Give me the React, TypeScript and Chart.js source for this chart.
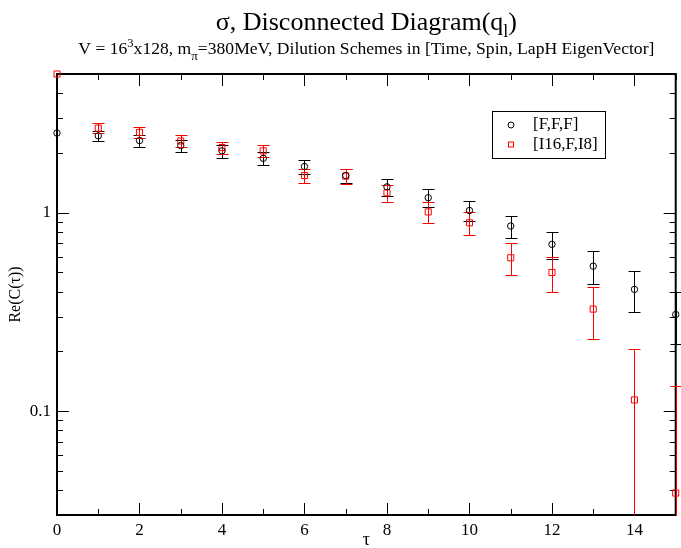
import React, { useEffect, useRef } from 'react';
import { Chart, registerables } from 'chart.js';

Chart.register(...registerables);

// ---- data ----
const tau = [0, 1, 2, 3, 4, 5, 6, 7, 8, 9, 10, 11, 12, 13, 14, 15];
const fffValues = [2.52, 2.44, 2.31, 2.18, 2.05, 1.88, 1.71, 1.54, 1.35, 1.19, 1.026, 0.857, 0.693, 0.538, 0.411, 0.307];
const fffErrors = [0, 0.15, 0.16, 0.155, 0.155, 0.145, 0.14, 0.13, 0.13, 0.12, 0.12, 0.11, 0.105, 0.1, 0.095, 0.09];
const i16Values = [5.0, 2.67, 2.54, 2.3, 2.13, 2.05, 1.54, 1.53, 1.26, 1.01, 0.89, 0.593, 0.5, 0.327, 0.114, 0.0387];
const i16Errors = [0, 0.16, 0.15, 0.15, 0.145, 0.145, 0.13, 0.13, 0.125, 0.12, 0.117, 0.11, 0.1, 0.097, 0.093, 0.095];

const seriesLabels = ['[F,F,F]', '[I16,F,I8]'];
const seriesColors = ['#000000', '#ff0000'];

const xMajorTicks = [0, 2, 4, 6, 8, 10, 12, 14];
const xMinorTicks = [1, 3, 5, 7, 9, 11, 13, 15];
const yMajorTicks = [0.1, 1];
const yMinorTicks = [0.04, 0.05, 0.06, 0.07, 0.08, 0.09, 0.2, 0.3, 0.4, 0.5, 0.6, 0.7, 0.8, 0.9, 2, 3, 4];

const xMin = 0;
const xMax = 15;
const yMin = 0.03;
const yMax = 5;

const FONT = '"Liberation Serif", "Times New Roman", serif';

type Part = { text: string; size: number; dy: number };

const titleParts: Part[] = [
  { text: 'σ, Disconnected Diagram(q', size: 26, dy: 0 },
  { text: 'l', size: 18, dy: 7 },
  { text: ')', size: 26, dy: 0 },
];
const subtitleParts: Part[] = [
  { text: 'V = 16', size: 17.6, dy: 0 },
  { text: '3', size: 12.5, dy: -7 },
  { text: 'x128, m', size: 17.6, dy: 0 },
  { text: 'π', size: 13, dy: 6 },
  { text: '=380MeV, Dilution Schemes in [Time, Spin, LapH EigenVector]', size: 17.6, dy: 0 },
];

function drawRich(ctx: CanvasRenderingContext2D, parts: Part[], cx: number, baseline: number) {
  let total = 0;
  const widths = parts.map((p) => {
    ctx.font = `${p.size}px ${FONT}`;
    const w = ctx.measureText(p.text).width;
    total += w;
    return w;
  });
  let x = cx - total / 2;
  ctx.textAlign = 'left';
  ctx.textBaseline = 'alphabetic';
  parts.forEach((p, i) => {
    ctx.font = `${p.size}px ${FONT}`;
    ctx.fillText(p.text, x, baseline + p.dy);
    x += widths[i];
  });
}

const errorSeries = [
  { values: fffValues, errors: fffErrors, color: seriesColors[0] },
  { values: i16Values, errors: i16Errors, color: seriesColors[1] },
];

const framePlugin = {
  id: 'frameTicksErrors',
  beforeDatasetsDraw(chart: any) {
    const { ctx, chartArea: a, scales } = chart;
    const xs = scales.x;
    const ys = scales.y;
    ctx.save();
    ctx.strokeStyle = '#000';
    ctx.lineWidth = 1;
    const line = (x1: number, y1: number, x2: number, y2: number) => {
      ctx.beginPath();
      ctx.moveTo(x1, y1);
      ctx.lineTo(x2, y2);
      ctx.stroke();
    };
    const xt = (vals: number[], len: number) =>
      vals.forEach((v) => {
        const x = Math.round(xs.getPixelForValue(v)) + 0.5;
        line(x, a.bottom, x, a.bottom - len);
        line(x, a.top, x, a.top + len);
      });
    const yt = (vals: number[], len: number) =>
      vals.forEach((v) => {
        const y = Math.round(ys.getPixelForValue(v)) + 0.5;
        line(a.left, y, a.left + len, y);
        line(a.right, y, a.right - len, y);
      });
    xt(xMajorTicks, 12);
    xt(xMinorTicks, 6);
    yt(yMajorTicks, 12);
    yt(yMinorTicks, 6);
    ctx.lineWidth = 2;
    ctx.strokeRect(a.left, a.top, a.right - a.left, a.bottom - a.top);

    // error bars
    ctx.beginPath();
    ctx.rect(a.left - 10, a.top, a.right - a.left + 20, a.bottom - a.top);
    ctx.clip();
    ctx.lineWidth = 1;
    errorSeries.forEach((s) => {
      ctx.strokeStyle = s.color;
      s.values.forEach((v, i) => {
        const e = s.errors[i];
        if (!(e > 0)) return;
        const x = Math.round(xs.getPixelForValue(tau[i])) + 0.5;
        const yHi = Math.round(ys.getPixelForValue(v + e)) + 0.5;
        const lo = v - e;
        const yLo = lo > 0 ? Math.round(ys.getPixelForValue(lo)) + 0.5 : a.bottom + 20;
        line(x, yHi, x, yLo);
        line(x - 6, yHi, x + 6, yHi);
        line(x - 6, yLo, x + 6, yLo);
      });
    });
    ctx.restore();
  },
  afterDraw(chart: any) {
    const { ctx, chartArea: a } = chart;
    ctx.save();
    ctx.fillStyle = '#000';
    const cx = (a.left + a.right) / 2;
    drawRich(ctx, titleParts, cx, 30);
    drawRich(ctx, subtitleParts, cx, 54);

    // legend
    ctx.strokeStyle = '#000';
    ctx.lineWidth = 1;
    ctx.strokeRect(492.5, 111.5, 113, 47);
    ctx.beginPath();
    ctx.arc(511, 125, 3, 0, Math.PI * 2);
    ctx.stroke();
    ctx.strokeStyle = seriesColors[1];
    ctx.strokeRect(508.5, 142, 5, 5);
    ctx.font = `17px ${FONT}`;
    ctx.textAlign = 'left';
    ctx.textBaseline = 'middle';
    ctx.fillStyle = '#000';
    const ds = chart.data.datasets;
    ctx.fillText(ds[0].label, 533, 125);
    ctx.fillText(ds[1].label, 533, 144.5);
    ctx.restore();
  },
};

export default function App() {
  const canvasRef = useRef<HTMLCanvasElement | null>(null);

  useEffect(() => {
    document.body.style.margin = '0';
    const canvas = canvasRef.current;
    if (!canvas) return;
    const chart = new Chart(canvas, {
      type: 'scatter',
      data: {
        datasets: [
          {
            label: seriesLabels[0],
            data: tau.map((x, i) => ({ x, y: fffValues[i] })),
            pointStyle: 'circle',
            pointRadius: 3.2,
            borderWidth: 1,
            borderColor: seriesColors[0],
            backgroundColor: 'rgba(0,0,0,0)',
            showLine: false,
            clip: false,
          } as any,
          {
            label: seriesLabels[1],
            data: tau.map((x, i) => ({ x, y: i16Values[i] })),
            pointStyle: 'rect',
            pointRadius: 4.3,
            borderWidth: 1,
            borderColor: seriesColors[1],
            backgroundColor: 'rgba(0,0,0,0)',
            showLine: false,
            clip: false,
          } as any,
        ],
      },
      options: {
        animation: false,
        responsive: true,
        maintainAspectRatio: false,
        layout: { padding: { top: 74, right: 2, left: 0, bottom: 0 } },
        plugins: {
          legend: { display: false },
          tooltip: { enabled: false },
          title: { display: false },
        },
        scales: {
          x: {
            type: 'linear',
            min: xMin,
            max: xMax,
            grid: { display: false, drawTicks: false },
            border: { display: false },
            afterBuildTicks: (scale: any) => {
              scale.ticks = xMajorTicks.map((value) => ({ value }));
            },
            afterFit: (scale: any) => {
              scale.height = 33;
            },
            ticks: {
              autoSkip: false,
              maxRotation: 0,
              padding: 5,
              color: '#000',
              font: { family: FONT, size: 17 },
              callback: (v: any) => String(v),
            },
            title: {
              display: true,
              text: 'τ',
              color: '#000',
              font: { family: FONT, size: 18, lineHeight: 1.0 },
              padding: { top: 0, bottom: -1 },
            },
          },
          y: {
            type: 'logarithmic',
            min: yMin,
            max: yMax,
            grid: { display: false, drawTicks: false },
            border: { display: false },
            afterBuildTicks: (scale: any) => {
              scale.ticks = yMajorTicks.map((value) => ({ value }));
            },
            afterFit: (scale: any) => {
              scale.width = 57;
            },
            ticks: {
              autoSkip: false,
              padding: 6,
              color: '#000',
              font: { family: FONT, size: 17 },
              callback: (v: any) => String(v),
            },
            title: {
              display: true,
              text: 'Re(C(τ))',
              color: '#000',
              font: { family: FONT, size: 16, lineHeight: 1.0 },
              padding: { top: 8, bottom: 0 },
            },
          },
        },
      } as any,
      plugins: [framePlugin],
    });
    return () => chart.destroy();
  }, []);

  return (
    <div style={{ position: 'relative', width: '681px', height: '548px' }}>
      <canvas ref={canvasRef} />
    </div>
  );
}
